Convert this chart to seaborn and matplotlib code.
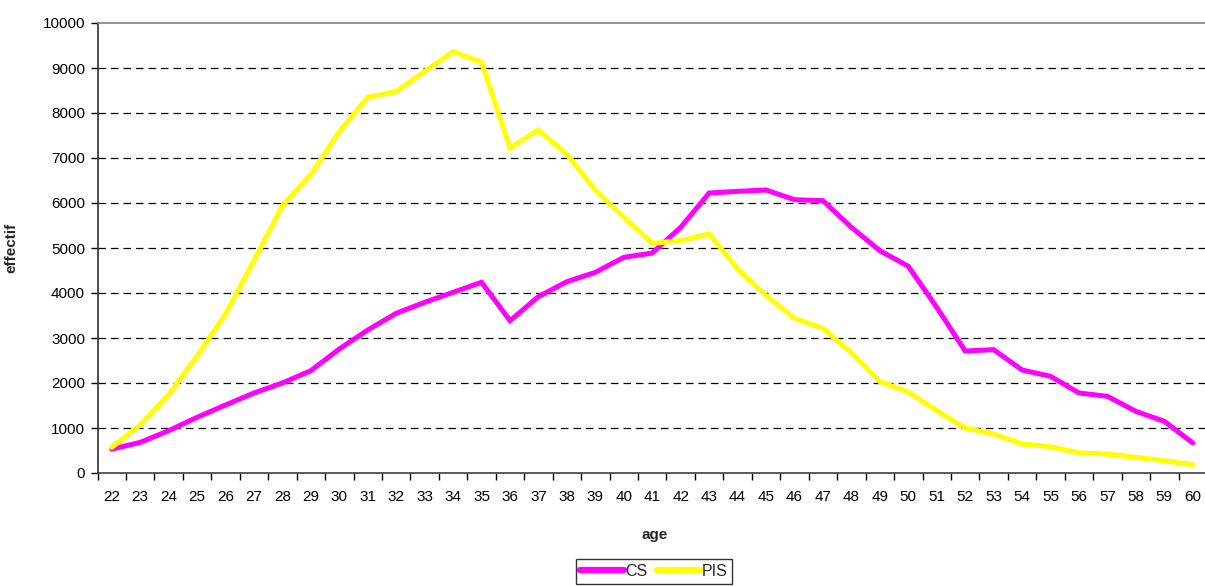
import matplotlib
matplotlib.use("Agg")
import matplotlib.pyplot as plt
from matplotlib.ticker import FixedLocator, NullFormatter
import seaborn as sns
import pandas as pd

ages = list(range(22, 61))
cs = [530, 680, 940, 1237, 1511, 1778, 2000, 2274, 2755, 3178,
      3548, 3793, 4015, 4237, 3385, 3919, 4252, 4459, 4793, 4889,
      5459, 6222, 6259, 6289, 6074, 6052, 5459, 4941, 4593, 3681,
      2711, 2741, 2289, 2148, 1778, 1704, 1370, 1148, 667]
pis = [570, 1070, 1740, 2600, 3530, 4720, 5940, 6630, 7585, 8350,
       8475, 8925, 9363, 9126, 7222, 7622, 7080, 6289, 5681, 5104,
       5163, 5311, 4533, 3941, 3437, 3215, 2667, 2030, 1800, 1385,
       1000, 867, 644, 585, 444, 422, 348, 274, 185]
series_names = ["CS", "PIS"]
series_colors = ["#FF00FF", "#FFFF00"]
y_ticks = list(range(0, 10001, 1000))

df = pd.DataFrame({
    "age": ages * 2,
    "effectif": cs + pis,
    "serie": [series_names[0]] * len(ages) + [series_names[1]] * len(ages),
})

sns.set_theme(style="white")
plt.rcParams["font.family"] = ["Liberation Sans", "DejaVu Sans"]

W, H = 1205, 586
fig = plt.figure(figsize=(W / 100, H / 100), dpi=100)
ax = fig.add_axes([97.5 / W, 113 / H, (1207 - 97.5) / W, 450 / H])

sns.lineplot(data=df, x="age", y="effectif", hue="serie",
             palette=dict(zip(series_names, series_colors)),
             linewidth=3.6, ax=ax, legend=False, sort=False,
             solid_joinstyle="miter", solid_capstyle="round")

ax.set_xlim(21.5, 60.5)
ax.set_ylim(0, 10000)

# horizontal dashed gridlines
for v in y_ticks[1:-1]:
    ax.axhline(v, color="black", lw=0.9, dashes=(6, 4), zorder=0.5)

ax.set_yticks(y_ticks)
ax.set_yticklabels([str(v) for v in y_ticks])
ax.set_xticks(ages)
ax.set_xticklabels([str(a) for a in ages])
ax.xaxis.set_minor_locator(FixedLocator([a - 0.5 for a in ages] + [60.5]))
ax.xaxis.set_minor_formatter(NullFormatter())
ax.tick_params(axis="x", which="major", length=0, pad=12, labelsize=11, colors="black")
ax.tick_params(axis="x", which="minor", length=5, width=1, color="black", bottom=True, direction="out")
ax.tick_params(axis="y", which="major", length=5, width=1, color="black", left=True,
               direction="out", labelsize=11, colors="black", pad=4)

ax.spines["right"].set_visible(False)
ax.spines["left"].set_color("#303030")
ax.spines["bottom"].set_color("#404040")
ax.spines["top"].set_color("#808080")
for s in ["left", "bottom", "top"]:
    ax.spines[s].set_linewidth(1.2)

ax.set_xlabel("age", fontsize=11, fontweight="bold")
ax.set_ylabel("effectif", fontsize=11, fontweight="bold")
ax.xaxis.set_label_coords((655 - 97.5) / (1207 - 97.5), -(528 - 473) / 450)
ax.yaxis.set_label_coords(-(97.5 - 18) / (1207 - 97.5), 0.5)

handles = [plt.Line2D([], [], color=c, lw=4.5, solid_capstyle="round") for c in series_colors]
leg = fig.legend(handles, series_names, loc="upper center",
                 bbox_to_anchor=(654 / W, (586 - 559) / H), ncol=2,
                 frameon=True, fancybox=False, fontsize=11.5,
                 handlelength=2.7, handletextpad=0.1, columnspacing=0.6,
                 borderpad=0.3, borderaxespad=0)
leg.get_frame().set_edgecolor("black")
leg.get_frame().set_linewidth(1.0)

fig.savefig("out.png", dpi=100)
